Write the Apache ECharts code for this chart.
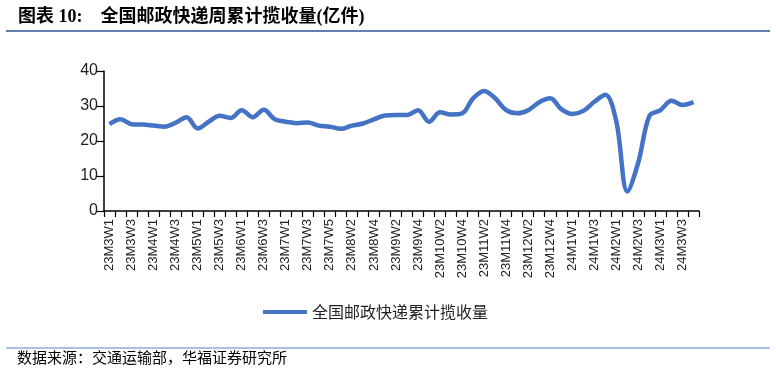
<!DOCTYPE html>
<html>
<head>
<meta charset="utf-8">
<script src="https://cdn.jsdelivr.net/npm/echarts@6/dist/echarts.min.js"></script>
<style>
html,body{margin:0;padding:0;background:#fff;}
#chart{width:776px;height:372px;}
</style>
</head>
<body>
<div id="chart"></div>
<script>
const categories = [
  '23M3W1','23M3W2','23M3W3','23M3W4',
  '23M4W1','23M4W2','23M4W3','23M4W4',
  '23M5W1','23M5W2','23M5W3','23M5W4',
  '23M6W1','23M6W2','23M6W3','23M6W4',
  '23M7W1','23M7W2','23M7W3','23M7W4','23M7W5',
  '23M8W1','23M8W2','23M8W3','23M8W4',
  '23M9W1','23M9W2','23M9W3','23M9W4',
  '23M10W1','23M10W2','23M10W3','23M10W4',
  '23M11W1','23M11W2','23M11W3','23M11W4',
  '23M12W1','23M12W2','23M12W3','23M12W4','23M12W5',
  '24M1W1','24M1W2','24M1W3','24M1W4',
  '24M2W1','24M2W2','24M2W3','24M2W4',
  '24M3W1','24M3W2','24M3W3','24M3W4'
];
const seriesName = '全国邮政快递累计揽收量';
const values = [
  24.8, 26.2, 24.8, 24.7,
  24.4, 24.1, 25.2, 26.8,
  23.6, 25.5, 27.2, 26.6,
  28.8, 26.8, 28.9, 26.2,
  25.5, 25.1, 25.3, 24.4, 24.1,
  23.5, 24.4, 25.0, 26.2,
  27.3, 27.4, 27.4, 28.8,
  25.5, 28.2, 27.6, 27.9,
  32.2, 34.3, 32.2, 28.8,
  27.9, 28.8, 31.1, 32.2, 29.1,
  27.7, 28.6, 31.2, 33.2,
  25.5, 5.6, 14.0, 27.2,
  28.8, 31.5, 30.3, 31.1
];
const yTicks = { min: 0, max: 40, interval: 10 };
const titleText = '图表 10:　全国邮政快递周累计揽收量(亿件)';
const sourceText = '数据来源：交通运输部，华福证券研究所';

const chart = echarts.init(document.getElementById('chart'), null, {renderer: 'canvas'});
chart.setOption({
  backgroundColor: '#ffffff',
  animation: false,
  title: {
    text: titleText,
    left: 18, top: 8,
    padding: 0,
    textStyle: {
      fontFamily: "'Liberation Serif', 'Noto Sans CJK SC'",
      fontWeight: 'bold', fontSize: 18, color: '#000'
    }
  },
  graphic: [
    { type: 'line', shape: {x1: 6, y1: 31, x2: 770, y2: 31},
      style: {stroke: '#2f5597', lineWidth: 1.5} },
    { type: 'line', shape: {x1: 6, y1: 348, x2: 770, y2: 348},
      style: {stroke: '#8faadc', lineWidth: 1.5} },
    { type: 'text', left: 17, top: 350,
      style: {text: sourceText, fontSize: 15, fill: '#000',
        fontFamily: "'Noto Sans CJK SC'"} }
  ],
  legend: {
    data: [seriesName],
    left: 263, top: 304,
    padding: 0,
    icon: 'rect',
    itemWidth: 44, itemHeight: 4,
    textStyle: { fontSize: 16, color: '#222', fontFamily: "'Noto Sans CJK SC'" }
  },
  grid: { left: 104, right: 77, top: 71, bottom: 161, containLabel: false },
  xAxis: {
    type: 'category',
    data: categories,
    boundaryGap: true,
    axisLine: { lineStyle: { color: '#000', width: 1.5 } },
    axisTick: { show: true, interval: 0, length: 6, lineStyle: { color: '#000', width: 1.2 } },
    axisLabel: {
      interval: 1, rotate: 90, fontSize: 13, color: '#222', margin: 8,
      fontFamily: "'Liberation Sans', Arial"
    },
    splitLine: { show: false }
  },
  yAxis: {
    type: 'value',
    min: yTicks.min, max: yTicks.max, interval: yTicks.interval,
    axisLine: { show: true, lineStyle: { color: '#000', width: 1.5 } },
    axisTick: { show: true, length: 7, lineStyle: { color: '#000', width: 1.2 } },
    axisLabel: { fontSize: 16, color: '#222', margin: 6, fontFamily: "'Liberation Sans', Arial" },
    splitLine: { show: false }
  },
  series: [{
    name: seriesName,
    type: 'line',
    data: values,
    smooth: 0.35,
    symbol: 'none',
    lineStyle: { color: '#4472c4', width: 4.5 },
    itemStyle: { color: '#4472c4' }
  }]
});
</script>
</body>
</html>
